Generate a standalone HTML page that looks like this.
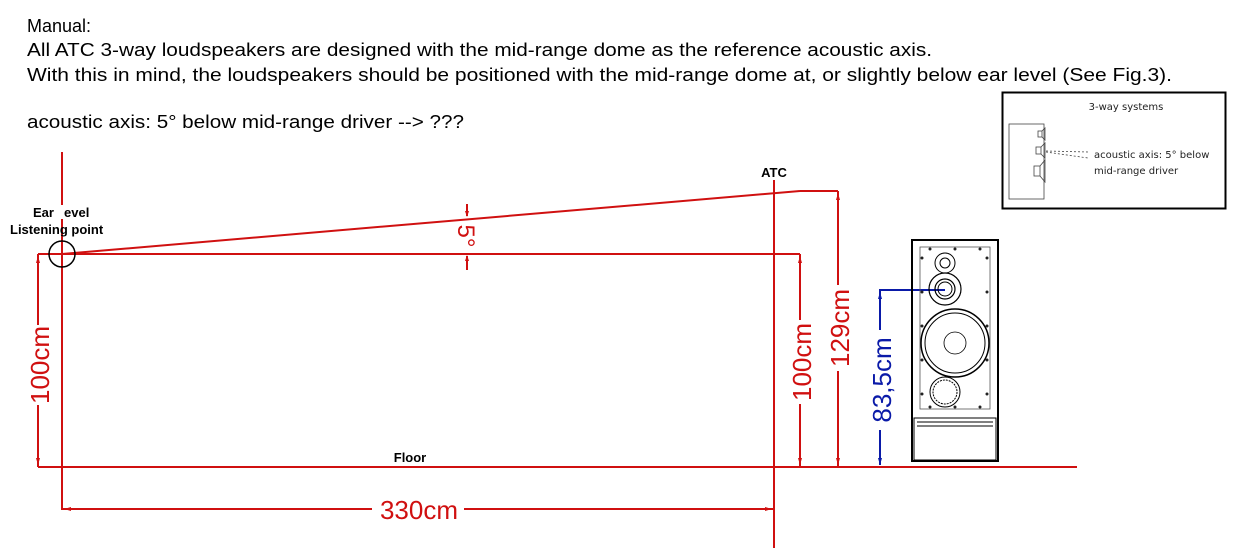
<!DOCTYPE html>
<html><head><meta charset="utf-8"><style>html,body{margin:0;padding:0;background:#fff}svg{display:block}</style></head>
<body>
<svg width="1252" height="548" viewBox="0 0 1252 548" xmlns="http://www.w3.org/2000/svg" font-family="Liberation Sans, Arial, sans-serif">
<rect width="1252" height="548" fill="#fff"/>
<g font-size="18" fill="#000">
<text x="27" y="32">Manual:</text>
<text x="27" y="56" textLength="905" lengthAdjust="spacingAndGlyphs">All ATC 3-way loudspeakers are designed with the mid-range dome as the reference acoustic axis.</text>
<text x="27" y="81" textLength="1145" lengthAdjust="spacingAndGlyphs">With this in mind, the loudspeakers should be positioned with the mid-range dome at, or slightly below ear level (See Fig.3).</text>
<text x="27" y="128" textLength="437" lengthAdjust="spacingAndGlyphs">acoustic axis: 5° below mid-range driver --&gt; ???</text>
</g>
<!-- inset -->
<rect x="1002.5" y="92.5" width="223" height="116" fill="#fff" stroke="#000" stroke-width="2"/>
<text x="1126" y="110" font-size="10" text-anchor="middle" font-family="DejaVu Sans, sans-serif" fill="#222">3-way systems</text>
<rect x="1009" y="124" width="35" height="75" fill="none" stroke="#444" stroke-width="0.8"/>
<g stroke="#444" stroke-width="0.8" fill="none">
<rect x="1038" y="131" width="4" height="6"/><path d="M1042 131 L1045 128 L1045 140 L1042 137"/>
<rect x="1036" y="147" width="5" height="7"/><path d="M1041 147 L1045 143 L1045 158 L1041 154"/>
<rect x="1034" y="166" width="6" height="10"/><path d="M1040 166 L1045 160 L1045 182 L1040 176"/>
<path d="M1046 151 L1088 152 M1046 152 L1088 158" stroke-dasharray="2 2"/>
</g>
<text x="1094" y="158" font-size="10" font-family="DejaVu Sans, sans-serif" fill="#222">acoustic axis: 5° below</text>
<text x="1094" y="174" font-size="10" font-family="DejaVu Sans, sans-serif" fill="#222">mid-range driver</text>
<!-- red lines -->
<g stroke="#d01010" stroke-width="2" fill="none">
<line x1="62" y1="152" x2="62" y2="510"/>
<line x1="38" y1="254" x2="800" y2="254"/>
<line x1="62" y1="254" x2="800" y2="191"/>
<line x1="800" y1="191" x2="838" y2="191"/>
<line x1="838" y1="191" x2="838" y2="467"/>
<line x1="774" y1="180" x2="774" y2="548"/>
<line x1="38" y1="467" x2="1077" y2="467"/>
<line x1="38" y1="254" x2="38" y2="467"/>
<line x1="800" y1="254" x2="800" y2="467"/>
<line x1="62" y1="509" x2="774" y2="509"/>
<line x1="467" y1="204" x2="467" y2="216"/>
<line x1="467" y1="256" x2="467" y2="270"/>
</g>
<g fill="#d01010">
<path d="M38 256 l-2 7 h4z M38 465 l-2 -7 h4z M800 256 l-2 7 h4z M800 465 l-2 -7 h4z M838 193 l-2 7 h4z M838 465 l-2 -7 h4z M64 509 l7 -2 v4z M772 509 l-7 -2 v4z M467 217 l-2 -6 h4z M467 255 l-2 6 h4z"/>
</g>
<rect x="20" y="325" width="36" height="80" fill="#fff"/>
<rect x="782" y="320" width="36" height="84" fill="#fff"/>
<rect x="820" y="285" width="36" height="86" fill="#fff"/>
<rect x="372" y="496" width="92" height="26" fill="#fff"/>
<g fill="#d01010" font-size="26">
<text transform="translate(49,365) rotate(-90)" text-anchor="middle">100cm</text>
<text transform="translate(811,362) rotate(-90)" text-anchor="middle">100cm</text>
<text transform="translate(849,328) rotate(-90)" text-anchor="middle">129cm</text>
<text x="419" y="519" text-anchor="middle">330cm</text>
<text transform="translate(458,236) rotate(90)" text-anchor="middle" font-size="24">5°</text>
</g>
<circle cx="62" cy="254" r="13" fill="none" stroke="#000" stroke-width="1.5"/>
<g font-size="13" font-weight="bold" fill="#000">
<rect x="58" y="205" width="8" height="14" fill="#fff"/>
<text x="33" y="217">Ear</text><text x="64" y="217">evel</text>
<text x="10" y="234">Listening point</text>
<text x="774" y="177" text-anchor="middle">ATC</text>
<text x="410" y="462" text-anchor="middle">Floor</text>
</g>
<!-- blue -->
<g stroke="#0a1aa8" stroke-width="2" fill="none">
<polyline points="880,465 880,290 945,290"/>
</g>
<path d="M880 292 l-2 7 h4z M880 465 l-2 -7 h4z" fill="#0a1aa8"/>
<rect x="864" y="330" width="34" height="100" fill="#fff"/>
<text transform="translate(891,380) rotate(-90)" text-anchor="middle" font-size="26" fill="#0a1aa8">83,5cm</text>
<!-- speaker -->
<g fill="none" stroke="#000">
<rect x="912" y="240" width="86" height="221" stroke-width="2"/>
<rect x="920" y="247" width="70" height="162" stroke="#555" stroke-width="0.8"/>
<rect x="914" y="418" width="82" height="42" stroke-width="1"/>
<line x1="917" y1="422" x2="993" y2="422"/><line x1="917" y1="426" x2="993" y2="426"/>
<circle cx="945" cy="263" r="10" stroke-width="1"/><circle cx="945" cy="263" r="5"/>
<circle cx="945" cy="289" r="16" stroke-width="1.2"/><circle cx="945" cy="289" r="10" stroke-width="1.2"/><circle cx="945" cy="289" r="7"/>
<circle cx="955" cy="343" r="34" stroke-width="1.5"/><circle cx="955" cy="343" r="30"/><circle cx="955" cy="343" r="11" stroke-width="0.8"/>
<circle cx="945" cy="392" r="15"/><circle cx="945" cy="392" r="12" stroke-dasharray="2 1"/>
</g>
<g fill="#222">
<circle cx="930" cy="249" r="1.5"/><circle cx="955" cy="249" r="1.5"/><circle cx="980" cy="249" r="1.5"/>
<circle cx="922" cy="258" r="1.5"/><circle cx="987" cy="258" r="1.5"/>
<circle cx="922" cy="292" r="1.5"/><circle cx="987" cy="292" r="1.5"/>
<circle cx="922" cy="326" r="1.5"/><circle cx="987" cy="326" r="1.5"/>
<circle cx="922" cy="360" r="1.5"/><circle cx="987" cy="360" r="1.5"/>
<circle cx="922" cy="394" r="1.5"/><circle cx="987" cy="394" r="1.5"/>
<circle cx="930" cy="407" r="1.5"/><circle cx="955" cy="407" r="1.5"/><circle cx="980" cy="407" r="1.5"/>
</g>
</svg>
</body></html>
